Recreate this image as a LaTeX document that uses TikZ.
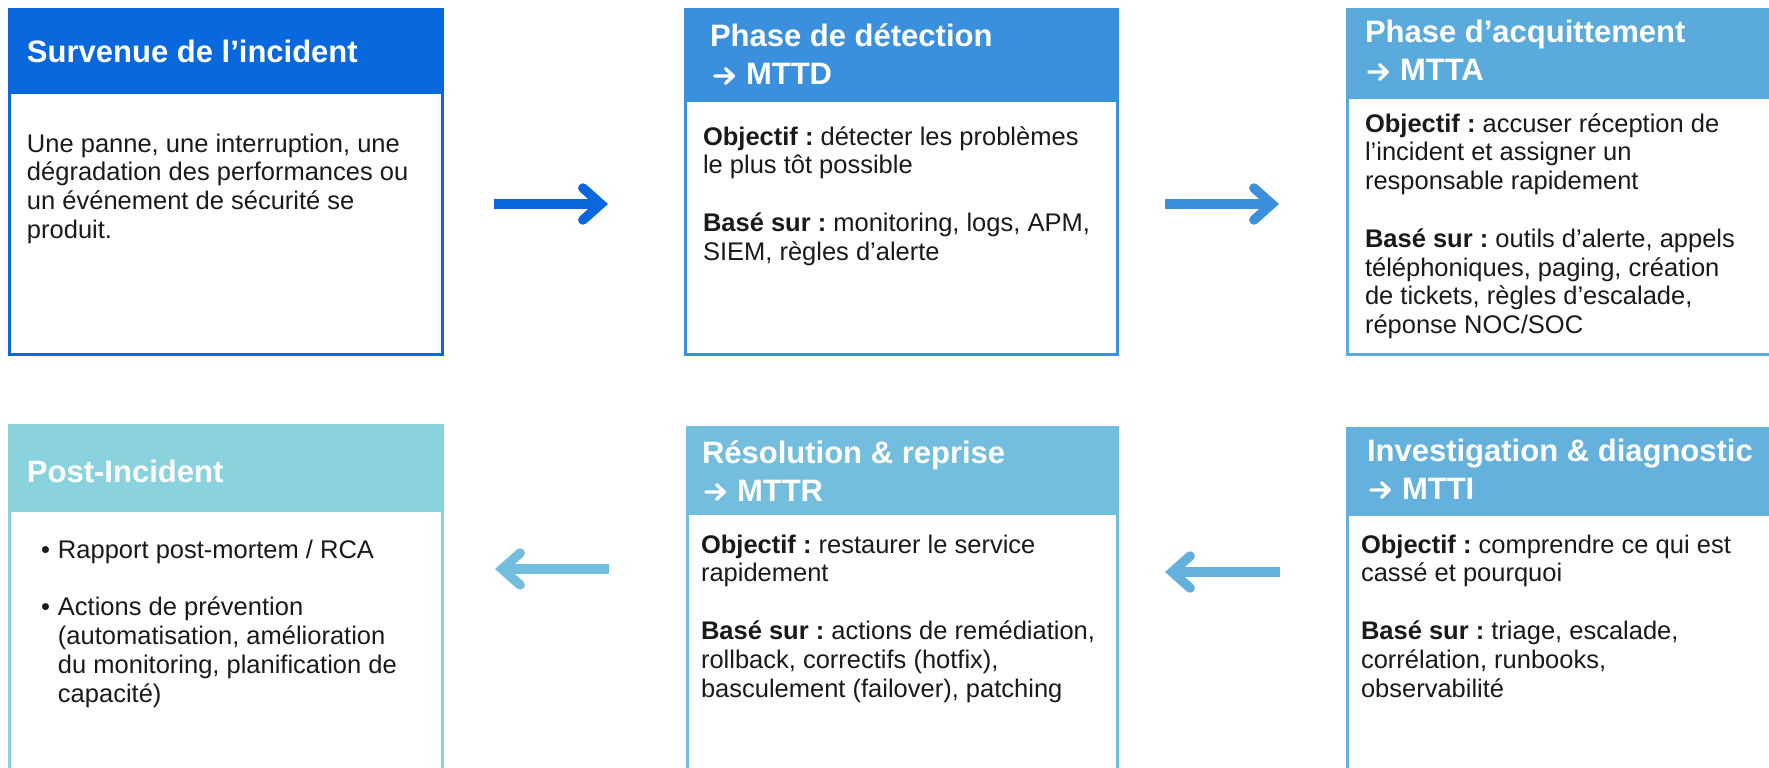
\documentclass[tikz,border=0pt]{standalone}
\usepackage{fontspec}
\setmainfont{Liberation Sans}
\usetikzlibrary{arrows.meta}
\definecolor{cA}{HTML}{0A68DE}
\definecolor{cB}{HTML}{3B90DD}
\definecolor{cC}{HTML}{5AAADC}
\definecolor{cD}{HTML}{8AD3DE}
\definecolor{cE}{HTML}{73BEDC}
\definecolor{cF}{HTML}{64B1DD}
\definecolor{ink}{HTML}{1A1A1A}
\newcommand\bodypar[1]{\begin{minipage}[t]{430pt}\frenchspacing\fontsize{25.5}{28.8}\selectfont\raggedright #1\end{minipage}}
\newcommand\headpar[1]{\begin{minipage}[t]{430pt}\frenchspacing\fontsize{31}{38}\selectfont\bfseries\raggedright #1\end{minipage}}
\newcommand\gap{\\[28.8pt]}
\newcommand\harrow{\tikz[baseline=0pt]{\draw[white,line width=3.4pt,line cap=round,line join=round] (1.7pt,9pt)--(20.3pt,9pt) (12.5pt,1.7pt)--(20.3pt,9pt)--(12.5pt,16.3pt);}\hspace{11pt}}
\tikzset{
  frame/.style={draw=#1, line width=3pt, fill=white, inner sep=0pt, outer sep=0pt, anchor=north west},
  head/.style={fill=#1, inner sep=0pt, outer sep=0pt, anchor=north west},
  htext/.style={text=white, anchor=base west, inner sep=0pt, outer sep=0pt},
  btext/.style={text=ink, anchor=base west, inner sep=0pt, outer sep=0pt},
  flow/.style={draw=#1, line width=9.5pt, -{Straight Barb[length=18pt,width=32pt,line cap=round,line join=miter]}},
}
\begin{document}
\begin{tikzpicture}[x=1pt,y=-1pt]
\useasboundingbox (0,0) rectangle (1769,768);
\clip (0,0) rectangle (1769,768);
% frames
\node[frame=cA, minimum width=433pt, minimum height=345pt] (b1) at (9.5,9.5) {};
\node[frame=cB, minimum width=432.5pt, minimum height=345pt] (b2) at (685,9.5) {};
\node[frame=cC, minimum width=452pt, minimum height=345pt] (b3) at (1347.5,9.5) {};
\node[frame=cD, minimum width=433pt, minimum height=380pt] (b4) at (9.5,425.5) {};
\node[frame=cE, minimum width=430.5pt, minimum height=380pt] (b5) at (687,427.5) {};
\node[frame=cF, minimum width=452pt, minimum height=380pt] (b6) at (1347.5,428.5) {};
% headers
\node[head=cA, minimum width=436pt, minimum height=86pt] (h1) at (8,8) {};
\node[head=cB, minimum width=435.5pt, minimum height=94pt] (h2) at (683.5,8) {};
\node[head=cC, minimum width=455pt, minimum height=91pt] (h3) at (1346,8) {};
\node[head=cD, minimum width=436pt, minimum height=88pt] (h4) at (8,424) {};
\node[head=cE, minimum width=433.5pt, minimum height=89pt] (h5) at (685.5,426) {};
\node[head=cF, minimum width=455pt, minimum height=89pt] (h6) at (1346,427) {};
% header texts
\node[htext] (t1) at (27,63) {\headpar{Survenue de l’incident}};
\node[htext] (t2) at (710,47) {\headpar{Phase de détection\\\hspace*{3pt}\harrow MTTD}};
\node[htext] (t3) at (1365,43) {\headpar{Phase d’acquittement\\\hspace*{2pt}\harrow MTTA}};
\node[htext] (t4) at (27,482) {\headpar{Post-Incident}};
\node[htext] (t5) at (702,463) {\headpar{Résolution \& reprise\\\hspace*{2pt}\harrow MTTR}};
\node[htext] (t6) at (1367,461) {\headpar{Investigation \& diagnostic\\\hspace*{2pt}\harrow MTTI}};
% body texts
\node[btext] (p1) at (27,152) {\bodypar{Une panne, une interruption, une\\dégradation des performances ou\\un événement de sécurité se\\produit.}};
\node[btext] (p2) at (703,145) {\bodypar{\textbf{Objectif :} détecter les problèmes\\le plus tôt possible\gap\textbf{Basé sur :} monitoring, logs, APM,\\SIEM, règles d’alerte}};
\node[btext] (p3) at (1365,132) {\bodypar{\textbf{Objectif :} accuser réception de\\l’incident et assigner un\\responsable rapidement\gap\textbf{Basé sur :} outils d’alerte, appels\\téléphoniques, paging, création\\de tickets, règles d’escalade,\\réponse NOC/SOC}};
\node[btext] (p4) at (41,558) {\bodypar{\makebox[17pt][l]{•}Rapport post-mortem / RCA\gap\makebox[17pt][l]{•}Actions de prévention\\\hspace*{17pt}(automatisation, amélioration\\\hspace*{17pt}du monitoring, planification de\\\hspace*{17pt}capacité)}};
\node[btext] (p5) at (701,553) {\bodypar{\textbf{Objectif :} restaurer le service\\rapidement\gap\textbf{Basé sur :} actions de remédiation,\\rollback, correctifs (hotfix),\\basculement (failover), patching}};
\node[btext] (p6) at (1361,553) {\bodypar{\textbf{Objectif :} comprendre ce qui est\\cassé et pourquoi\gap\textbf{Basé sur :} triage, escalade,\\corrélation, runbooks,\\observabilité}};
% arrows
\coordinate (a1s) at (494,204);
\coordinate (a1e) at (608,204);
\coordinate (a2s) at (1165,204);
\coordinate (a2e) at (1279,204);
\coordinate (a3s) at (609,569);
\coordinate (a3e) at (495,569);
\coordinate (a4s) at (1280,572);
\coordinate (a4e) at (1165,572);
\draw[flow=cA] (a1s) -- (a1e);
\draw[flow=cB] (a2s) -- (a2e);
\draw[flow=cE] (a3s) -- (a3e);
\draw[flow=cF] (a4s) -- (a4e);
\end{tikzpicture}
\end{document}
